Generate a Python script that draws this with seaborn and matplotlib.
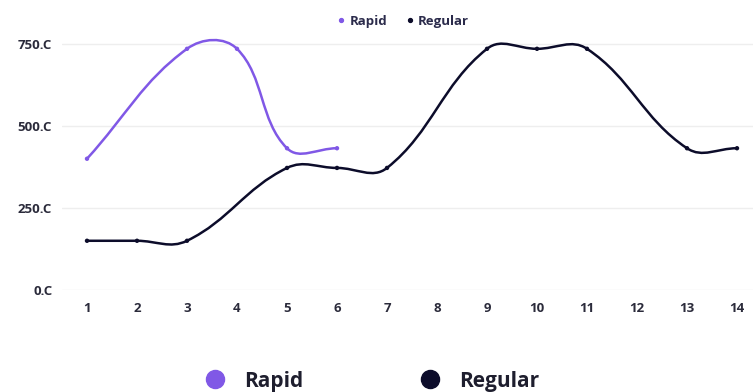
import numpy as np
import pandas as pd
import matplotlib
matplotlib.use("Agg")
import matplotlib.pyplot as plt
from matplotlib.path import Path
from matplotlib.patches import PathPatch
from matplotlib.lines import Line2D
import seaborn as sns

# Series values (None = no reading for that step; the curve spans the gap)
x_ticks = list(range(1, 15))
rapid_y = [400, None, 735, 735, 432, 432]
regular_y = [150, 150, 150, None, 372, 372, 372, None, 735, 735, 735, None, 432, 432]
y_ticks = [0, 250, 500, 750]
y_tick_labels = ["0.C", "250.C", "500.C", "750.C"]
series_names = ["Rapid", "Regular"]
colors = {"Rapid": "#8058e6", "Regular": "#0c0c2a"}

sns.set_theme(style="white")
plt.rcParams["font.family"] = ["Open Sans", "DejaVu Sans"]

W, H = 753, 392
fig = plt.figure(figsize=(W / 100, H / 100), dpi=100)
ax = fig.add_axes([62 / W, (H - 290) / H, (W - 62) / W, (290 - 37) / H])

ax.set_xlim(0.5, 14.32)
ax.set_ylim(0, 771)

rows = []
for name, vals in [("Rapid", rapid_y), ("Regular", regular_y)]:
    for x, v in zip(x_ticks, vals):
        rows.append({"x": x, "y": np.nan if v is None else v, "series": name})
df = pd.DataFrame(rows).dropna()


def spline_path(ax, xs, ys, tension=0.4):
    """Cardinal-style bezier through the points, computed in display space."""
    pts = ax.transData.transform(np.column_stack([xs, ys]))
    n = len(pts)
    cps_prev, cps_next = [], []
    for i in range(n):
        p0 = pts[max(i - 1, 0)]
        p1 = pts[i]
        p2 = pts[min(i + 1, n - 1)]
        d01 = np.hypot(*(p1 - p0))
        d12 = np.hypot(*(p2 - p1))
        tot = d01 + d12
        s01 = d01 / tot if tot else 0
        s12 = d12 / tot if tot else 0
        cps_prev.append(p1 - tension * s01 * (p2 - p0))
        cps_next.append(p1 + tension * s12 * (p2 - p0))
    verts = [pts[0]]
    codes = [Path.MOVETO]
    for i in range(n - 1):
        verts += [cps_next[i], cps_prev[i + 1], pts[i + 1]]
        codes += [Path.CURVE4] * 3
    inv = ax.transData.inverted()
    return Path(inv.transform(np.array(verts)), codes)


for name in ["Regular", "Rapid"]:
    sub = df[df["series"] == name]
    p = spline_path(ax, sub["x"].to_numpy(float), sub["y"].to_numpy(float))
    ax.add_patch(PathPatch(p, facecolor="none", edgecolor=colors[name],
                           lw=1.8, zorder=3, capstyle="round"))

sns.scatterplot(data=df, x="x", y="y", hue="series", palette=colors,
                s=10, edgecolor="none", ax=ax, legend=False, zorder=4)

ax.set_xticks(x_ticks)
ax.set_xticklabels([str(v) for v in x_ticks])
ax.set_yticks(y_ticks)
ax.set_yticklabels(y_tick_labels)
ax.set_xlabel("")
ax.set_ylabel("")
ax.grid(axis="y", color="#eeeeee", lw=1)
ax.grid(axis="x", visible=False)
for s in ax.spines.values():
    s.set_visible(False)
ax.tick_params(axis="both", length=0, labelsize=9.5, labelcolor="#2b2b3b")
ax.tick_params(axis="x", pad=9)
ax.tick_params(axis="y", pad=7)
for lab in ax.get_xticklabels() + ax.get_yticklabels():
    lab.set_fontweight("bold")

# small legend at the top
top_handles = [Line2D([], [], ls="none", marker="o", ms=2.8, color=colors[n]) for n in series_names]
fig.legend(top_handles, series_names, loc="center", bbox_to_anchor=(403 / W, 1 - 21 / H),
           ncol=2, frameon=False, handlelength=0.6, handletextpad=0.35, columnspacing=1.4,
           prop={"weight": "bold", "size": 9.5}, labelcolor="#2b2b4b")

# large legend at the bottom
bot_handles = [Line2D([], [], ls="none", marker="o", ms=13, color=colors[n]) for n in series_names]
fig.legend(bot_handles, series_names, loc="center", bbox_to_anchor=(372 / W, 1 - 381 / H),
           ncol=2, frameon=False, handlelength=1.0, handletextpad=0.9, columnspacing=5.6,
           prop={"weight": "bold", "size": 15}, labelcolor="#1e1e2e")

fig.savefig("out.png", dpi=100, facecolor="white")
